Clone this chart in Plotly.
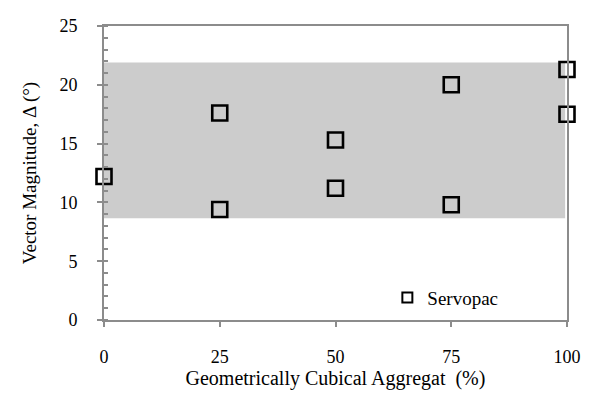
import plotly.graph_objects as go

# Data
x_vals = [0, 25, 25, 50, 50, 75, 75, 100, 100]
y_vals = [12.2, 17.6, 9.4, 15.3, 11.2, 20.0, 9.8, 21.3, 17.5]
series_name = "Servopac"
band_x = [0, 99.6]
band_y = [8.65, 21.9]
x_ticks = [0, 25, 50, 75, 100]
y_ticks = [0, 5, 10, 15, 20, 25]

FONT = "Liberation Serif, Times New Roman, serif"
AX = "#8c8c8c"

fig = go.Figure()
fig.add_trace(go.Scatter(
    x=x_vals, y=y_vals, mode="markers", name=series_name, showlegend=False,
    cliponaxis=False,
    marker=dict(symbol="square-open", size=15, color="black", line=dict(width=2.6, color="black")),
))
fig.add_trace(go.Scatter(
    x=[None], y=[None], mode="markers", name=series_name, showlegend=True,
    marker=dict(symbol="square-open", size=10, color="black", line=dict(width=2, color="black")),
))

fig.add_shape(type="rect", xref="x", yref="y", x0=band_x[0], x1=band_x[1], y0=band_y[0], y1=band_y[1],
              fillcolor="#cccccc", line=dict(width=0), layer="below")

fig.update_layout(
    width=581, height=385,
    margin=dict(l=96, r=13, t=8, b=61),
    paper_bgcolor="white", plot_bgcolor="white",
    font=dict(family=FONT, size=18, color="black"),
    showlegend=True,
    legend=dict(x=0.612, y=0.076, xanchor="left", yanchor="middle", bgcolor="rgba(0,0,0,0)",
                font=dict(family=FONT, size=19), itemwidth=30, tracegroupgap=0),
    xaxis=dict(
        range=[0, 100], tickvals=x_ticks, ticktext=[str(v) for v in x_ticks],
        showline=True, linecolor=AX, linewidth=2, mirror=True,
        ticks="outside", ticklen=5, tickcolor=AX, tickwidth=2,
        showgrid=False, zeroline=False, ticklabelstandoff=14, ticklabeloverflow="allow",
        title=dict(text="Geometrically Cubical Aggregat  (%)", font=dict(family=FONT, size=20), standoff=4),
        tickfont=dict(family=FONT, size=18),
    ),
    yaxis=dict(
        range=[0, 25], tickvals=y_ticks, ticktext=[str(v) for v in y_ticks],
        showline=True, linecolor=AX, linewidth=2, mirror=True,
        ticks="outside", ticklen=5, tickcolor=AX, tickwidth=2,
        minor=dict(ticks="inside", ticklen=4, tickcolor=AX, tickwidth=1.5, dtick=1, showgrid=False),
        showgrid=False, zeroline=False, ticklabelstandoff=16, ticklabeloverflow="allow",
        title=dict(text="Vector Magnitude, Δ (°)", font=dict(family=FONT, size=19), standoff=18),
        tickfont=dict(family=FONT, size=18),
    ),
)

fig.write_html("out.html")
